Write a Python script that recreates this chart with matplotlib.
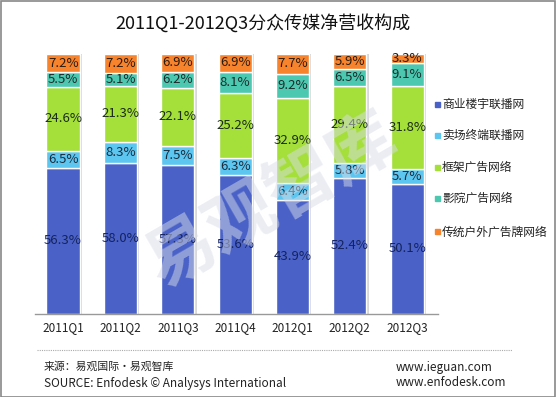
import matplotlib
matplotlib.use("Agg")
import matplotlib.pyplot as plt
from matplotlib.patches import Rectangle
from matplotlib.lines import Line2D
import numpy as np

plt.rcParams['font.family'] = ['Noto Sans CJK SC', 'DejaVu Sans']

categories = ['2011Q1', '2011Q2', '2011Q3', '2011Q4', '2012Q1', '2012Q2', '2012Q3']
series_names = ['商业楼宇联播网', '卖场终端联播网', '框架广告网络', '影院广告网络', '传统户外广告牌网络']
commercial = [56.3, 58.0, 57.3, 53.6, 43.9, 52.4, 50.1]
store = [6.5, 8.3, 7.5, 6.3, 6.4, 5.8, 5.7]
frame = [24.6, 21.3, 22.1, 25.2, 32.9, 29.4, 31.8]
cinema = [5.5, 5.1, 6.2, 8.1, 9.2, 6.5, 9.1]
outdoor = [7.2, 7.2, 6.9, 6.9, 7.7, 5.9, 3.3]
series = [commercial, store, frame, cinema, outdoor]
colors = ['#4a62c8', '#5cc6f0', '#a4df3a', '#4cc8b0', '#f7832c']
label_colors = ['#14235e', '#1c2c3c', '#1c2c1c', '#1c2c2c', '#2c1c10']
title = '2011Q1-2012Q3分众传媒净营收构成'

fig = plt.figure(figsize=(5.56, 3.97), dpi=100)
fig.patch.set_facecolor('white')
ax = fig.add_axes([0.063, 0.209, 0.725, 0.655])

x = np.arange(len(categories))
bottom = np.zeros(len(categories))
for vals, col, lc in zip(series, colors, label_colors):
    vals = np.array(vals)
    ax.bar(x + 0.04, vals, width=0.58, bottom=bottom, color='#d8d8d8', edgecolor='none', zorder=1)
    ax.bar(x, vals, width=0.58, bottom=bottom, color=col, edgecolor='white', linewidth=1.0, zorder=2)
    for xi, v, b in zip(x, vals, bottom):
        ax.text(xi, b + v / 2, f'{v:.1f}%', ha='center', va='center', fontsize=9.5,
                color=lc, zorder=4)
    bottom += vals

ax.set_xlim(-0.49, 6.54)
ax.set_ylim(0, 100)
ax.set_xticks(x)
ax.set_xticklabels(categories, fontsize=8.5, color='#222222')
ax.tick_params(axis='x', length=0, pad=5)
ax.set_yticks([])
for s in ['top', 'right', 'left']:
    ax.spines[s].set_visible(False)
ax.spines['bottom'].set_color('#999999')
ax.spines['bottom'].set_linewidth(1.0)

# watermark
fig.text(0.49, 0.49, '易观智库', fontsize=50, color='#d8dce8', alpha=0.5,
         rotation=30, ha='center', va='center', fontweight='bold', zorder=10)

# title
fig.text(0.473, 0.942, title, ha='center', va='center', fontsize=13, color='#111111')

# legend
legend_y = [104, 135, 167, 198, 232]
for name, col, yy in zip(series_names, colors, legend_y):
    fy = 1 - yy / 397
    fig.patches.append(Rectangle((435 / 556, fy - 2.5 / 397), 5 / 556, 5 / 397,
                                 transform=fig.transFigure, color=col))
    fig.text(442 / 556, fy, name, ha='left', va='center', fontsize=8.5, color='#222222')

# separator
fig.add_artist(Line2D([37 / 556, 512 / 556], [1 - 350 / 397, 1 - 350 / 397],
                      transform=fig.transFigure, color='#aaaaaa', linewidth=0.8,
                      linestyle=(0, (1, 1))))

fig.text(44 / 556, 1 - 366 / 397, '来源：易观国际·易观智库', ha='left', va='center',
         fontsize=7.8, color='#222222')
fig.text(44 / 556, 1 - 383 / 397, 'SOURCE: Enfodesk © Analysys International', ha='left',
         va='center', fontsize=8.5, color='#222222')
fig.text(396 / 556, 1 - 368 / 397, 'www.ieguan.com', ha='left', va='center', fontsize=8.5,
         color='#222222')
fig.text(396 / 556, 1 - 383 / 397, 'www.enfodesk.com', ha='left', va='center', fontsize=8.5,
         color='#222222')

# border
fig.patches.append(Rectangle((0.001, 0.001), 0.997, 0.997, transform=fig.transFigure,
                             fill=False, edgecolor='#888888', linewidth=1.2))

fig.savefig('out.png', dpi=100, facecolor='white')
